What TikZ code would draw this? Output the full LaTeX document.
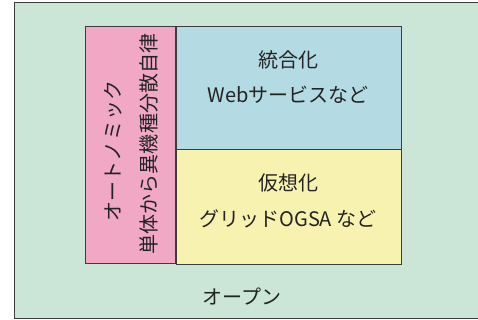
\documentclass[tikz,border=0pt]{standalone}
\usepackage{fontspec}
\newfontfamily\jp{Noto Sans CJK JP}
\definecolor{bggreen}{RGB}{203,230,214}
\definecolor{pinkbox}{RGB}{240,168,196}
\definecolor{bluebox}{RGB}{180,218,228}
\definecolor{yellowbox}{RGB}{248,242,176}
\definecolor{edge}{RGB}{60,60,60}
\definecolor{ink}{RGB}{35,35,35}
\begin{document}
\begin{tikzpicture}[x=1pt,y=-1pt,
  panel/.style={draw=edge,line width=1pt,anchor=north west,inner sep=0pt,outer sep=0pt},
  lbl/.style={text=ink,font=\jp\fontsize{20}{22}\selectfont,inner sep=0pt}]
\useasboundingbox (0,0) rectangle (478,320);
\clip (0,0) rectangle (478,320);
\node[panel,fill=bggreen,minimum width=480pt,minimum height=315pt] (open) at (14,3) {};
\node[panel,fill=pinkbox,minimum width=91pt,minimum height=236pt] (auto) at (85,27) {};
\node[panel,fill=bluebox,minimum width=225pt,minimum height=123pt] (integ) at (176,27) {};
\node[panel,fill=yellowbox,minimum width=225pt,minimum height=114pt] (virt) at (176,150) {};
\draw[edge,line width=1.4pt] (auto.north east) -- (auto.south east);
\node[lbl] (t1) at (288,60) {統合化};
\node[lbl] (t2) at (288,95) {Webサービスなど};
\node[lbl] (t3) at (288,183) {仮想化};
\node[lbl] (t4) at (288,219) {グリッドOGSA など};
\node[lbl] (t5) at (242,297) {オープン};
\node[lbl,rotate=90] (t6) at (113,151) {オートノミック};
\node[lbl,rotate=90] (t7) at (149,144) {単体から異機種分散自律};
\end{tikzpicture}
\end{document}
